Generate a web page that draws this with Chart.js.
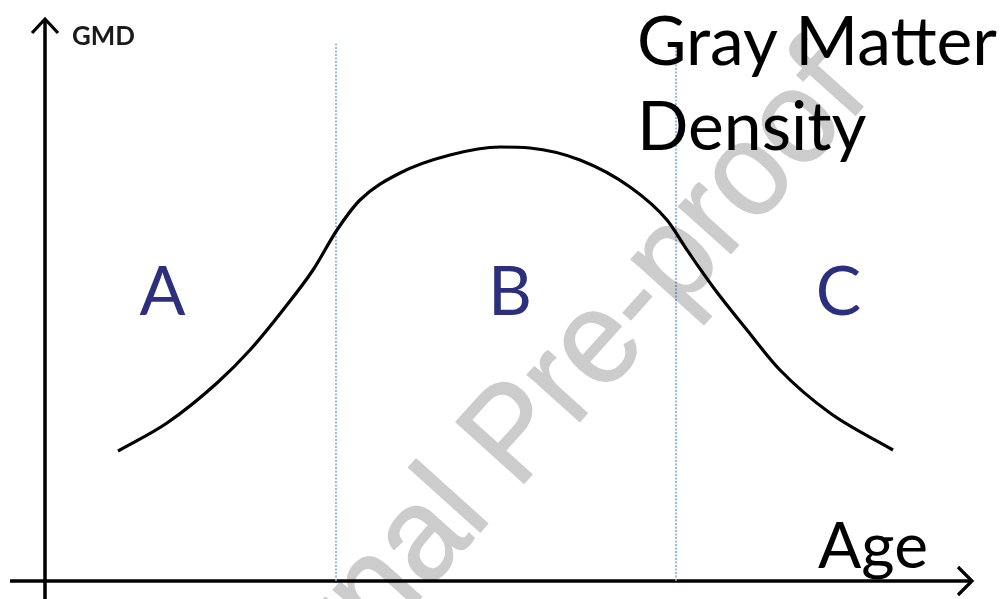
<!DOCTYPE html>
<html>
<head>
<meta charset="utf-8">
<script src="https://cdn.jsdelivr.net/npm/chart.js@4/dist/chart.umd.min.js"></script>
<style>
  html, body { margin: 0; padding: 0; background: #ffffff; }
  #wrap { width: 1002px; height: 599px; position: relative; }
  canvas { display: block; }
</style>
</head>
<body>
<div id="wrap"><canvas id="c" width="1002" height="599"></canvas></div>
<script>
// ---- data (schematic values) ----
const ages = [7.3, 12.2, 17.2, 20.5, 23.8, 26.8, 29.2, 31.5, 35.5, 40.5, 45.5, 48.5, 53.5, 58.5, 62.2, 64.2, 66.8, 70.2, 73.5, 78.5, 84.8];
const gmd  = [13.0, 15.8, 19.8, 23.1, 27.1, 31.1, 35.1, 38.1, 40.8, 42.6, 43.4, 43.3, 42.1, 39.4, 36.1, 33.1, 29.4, 25.1, 21.1, 16.8, 13.1];
const boundaryAges = [29.1, 63.1];
const boundaryTop = 53.8;
const regionLabels = ['A', 'B', 'C'];
const regionLabelAges = [11.75, 46.5, 79.35];
const regionLabelGmd = 26.6;
const yAxisLabel = 'GMD';
const xAxisLabel = 'Age';
const titleLines = ['Gray Matter', 'Density'];
const watermark = 'Journal Pre-proof';

const curve = ages.map((a, i) => ({ x: a, y: gmd[i] }));
const boundaryDatasets = boundaryAges.map(a => ({
  data: [{ x: a, y: 0 }, { x: a, y: boundaryTop }],
  borderColor: '#78aee0',
  borderWidth: 1.6,
  borderDash: [2, 1.5],
  pointRadius: 0,
  showLine: true,
  tension: 0
}));

function fitFont(ctx, text, weight, family, targetW) {
  ctx.font = weight + ' 100px ' + family;
  const w = ctx.measureText(text).width;
  return 100 * targetW / w;
}

const decor = {
  id: 'decor',
  beforeDatasetsDraw(chart) {
    const ctx = chart.ctx;
    const xs = chart.scales.x, ys = chart.scales.y;
    const x0 = xs.getPixelForValue(0), y0 = ys.getPixelForValue(0);
    ctx.save();
    ctx.strokeStyle = '#000';
    ctx.lineWidth = 3.5;
    ctx.lineCap = 'butt';
    ctx.beginPath();
    ctx.moveTo(x0, 599);
    ctx.lineTo(x0, 19);
    ctx.stroke();
    ctx.beginPath();
    ctx.moveTo(10, y0);
    ctx.lineTo(972, y0);
    ctx.stroke();
    ctx.lineWidth = 3.2;
    ctx.lineJoin = 'miter';
    ctx.beginPath();
    ctx.moveTo(x0 - 13, 33);
    ctx.lineTo(x0, 19);
    ctx.lineTo(x0 + 13, 33);
    ctx.stroke();
    ctx.beginPath();
    ctx.moveTo(958, y0 - 14);
    ctx.lineTo(972, y0);
    ctx.lineTo(958, y0 + 14);
    ctx.stroke();
    ctx.restore();
  },
  afterDatasetsDraw(chart) {
    const ctx = chart.ctx;
    const xs = chart.scales.x, ys = chart.scales.y;
    ctx.save();
    ctx.textBaseline = 'alphabetic';
    ctx.fillStyle = '#1a1a1a';
    let s = fitFont(ctx, yAxisLabel, 'bold', 'Lato', 63);
    ctx.font = 'bold ' + s + 'px Lato';
    ctx.textAlign = 'left';
    ctx.fillText(yAxisLabel, 72, 45);
    ctx.fillStyle = '#000';
    s = fitFont(ctx, titleLines[0], 'normal', 'Lato', 360);
    ctx.font = s + 'px Lato';
    ctx.fillText(titleLines[0], 637, 65);
    ctx.fillText(titleLines[1], 637, 150);
    s = fitFont(ctx, xAxisLabel, 'normal', 'Lato', 110);
    ctx.font = s + 'px Lato';
    ctx.fillText(xAxisLabel, 818, 568);
    ctx.fillStyle = '#2b2f7c';
    ctx.font = '68px Lato';
    ctx.textAlign = 'center';
    regionLabels.forEach((t, i) => {
      ctx.fillText(t, xs.getPixelForValue(regionLabelAges[i]), ys.getPixelForValue(regionLabelGmd));
    });
    ctx.restore();

    // Watermark: drawn opaque offscreen, composited with transparency
    const off = document.createElement('canvas');
    off.width = chart.width; off.height = chart.height;
    const o = off.getContext('2d');
    o.font = '133px "Liberation Sans", Arial, sans-serif';
    o.textAlign = 'left';
    o.textBaseline = 'alphabetic';
    o.fillStyle = '#000';
    o.strokeStyle = '#000';
    o.lineWidth = 1.5;
    o.lineJoin = 'round';
    const ang = -48 * Math.PI / 180;
    const sx = 530 / o.measureText('Pre-proof').width;
    const pre = o.measureText('Journal ').width * sx;
    const px = 517, py = 491;
    o.translate(px - pre * Math.cos(ang), py - pre * Math.sin(ang));
    o.rotate(ang);
    o.scale(sx, 1);
    o.fillText(watermark, 0, 0);
    o.strokeText(watermark, 0, 0);
    ctx.save();
    ctx.globalAlpha = 0.2;
    ctx.drawImage(off, 0, 0);
    ctx.restore();
  }
};

new Chart(document.getElementById('c'), {
  type: 'scatter',
  data: {
    datasets: [
      {
        data: curve,
        borderColor: '#000',
        borderWidth: 3.2,
        pointRadius: 0,
        showLine: true,
        tension: 0.4,
        cubicInterpolationMode: 'monotone'
      },
      ...boundaryDatasets
    ]
  },
  options: {
    responsive: false,
    maintainAspectRatio: false,
    animation: false,
    layout: { padding: 0 },
    plugins: { legend: { display: false }, tooltip: { enabled: false } },
    scales: {
      x: { type: 'linear', min: -4.5, max: 95.7, display: false },
      y: { type: 'linear', min: -1.8, max: 58.1, display: false }
    }
  },
  plugins: [decor]
});
</script>
</body>
</html>
